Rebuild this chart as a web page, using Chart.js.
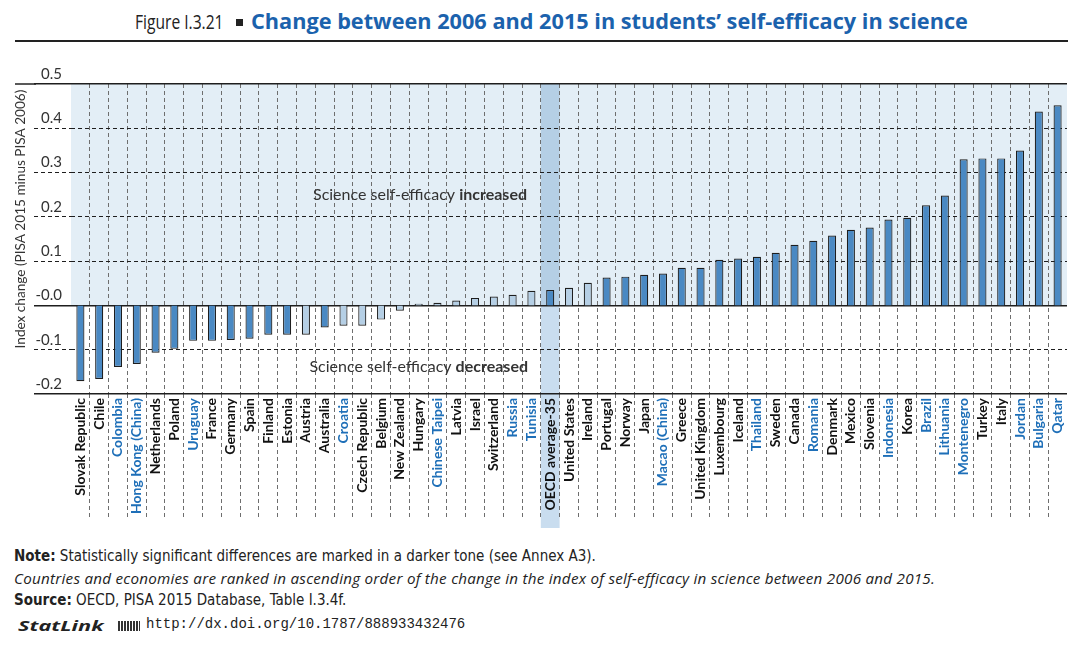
<!DOCTYPE html>
<html lang="en">
<head>
<meta charset="UTF-8">
<title>Figure I.3.21 - Change between 2006 and 2015 in students' self-efficacy in science</title>
<script src="https://cdn.jsdelivr.net/npm/chart.js"></script>
<style>
    body {
        margin: 0;
        padding: 0;
        background: #ffffff;
        width: 1089px;
        height: 658px;
        position: relative;
        overflow: hidden;
        font-family: Lato, sans-serif;
        color: #222;
    }

    /* titre */
    .fig-num {
        position: absolute;
        left: 135px;
        top: 8px;
        font-family: "Open Sans", sans-serif;
        font-size: 20px;
        line-height: 28px;
        color: #222;
        white-space: nowrap;
        transform: scaleX(0.78);
        transform-origin: left center;
    }
    .fig-sq {
        position: absolute;
        left: 236px;
        top: 19px;
        width: 7px;
        height: 7px;
        background: #222;
    }
    .fig-main {
        position: absolute;
        left: 251px;
        top: 7px;
        line-height: 28px;
        white-space: nowrap;
        font-family: "Open Sans", sans-serif;
        font-weight: 700;
        color: #1b62ad;
        font-size: 21.7px;
    }
    .title-rule {
        position: absolute;
        left: 15px;
        top: 40px;
        width: 1053px;
        height: 2px;
        background: #222;
    }

    #chartBox {
        position: absolute;
        left: 0;
        top: 60px;
        width: 1089px;
        height: 470px;
    }

    .note {
        position: absolute;
        left: 14px;
        white-space: nowrap;
        font-size: 15px;
        color: #222;
    }
    .narrow { font-family: "DejaVu Sans Condensed", "Liberation Sans Narrow", sans-serif; }
    .ital { font-family: "Open Sans", sans-serif; font-style: italic; font-size: 15.2px; letter-spacing: 0.25px; }
    .statlink {
        position: absolute;
        left: 18px;
        top: 616px;
        font-family: "Open Sans", sans-serif;
        font-weight: 700;
        font-style: italic;
        font-size: 14.5px;
        color: #222;
        transform: scaleX(1.5);
        transform-origin: left center;
    }
    .sl-icon {
        position: absolute;
        left: 118px;
        top: 621px;
        width: 22px;
        height: 10px;
        background: repeating-linear-gradient(90deg, #333 0 2px, #fff 2px 3px);
    }
    .url {
        position: absolute;
        left: 146px;
        top: 616px;
        font-family: "Liberation Mono", "DejaVu Sans Mono", monospace;
        font-size: 14px;
        color: #222;
    }
</style>
</head>
<body>

<div class="fig-num">Figure I.3.21</div>
<div class="fig-sq"></div>
<div class="fig-main">Change between 2006 and 2015 in students’ self-efficacy in science</div>
<div class="title-rule"></div>

<div id="chartBox">
    <canvas id="effChart" width="1089" height="470"></canvas>
</div>

<div class="note narrow" style="top:547px"><b>Note:</b> Statistically significant differences are marked in a darker tone (see Annex A3).</div>
<div class="note ital" style="top:568px">Countries and economies are ranked in ascending order of the change in the index of self-efficacy in science between 2006 and 2015.</div>
<div class="note narrow" style="top:591px"><b>Source:</b> OECD, PISA 2015 Database, Table I.3.4f.</div>
<div class="statlink">StatLink</div>
<div class="sl-icon"></div>
<div class="url">http://dx.doi.org/10.1787/888933432476</div>

<script>
    // Pays / économies, dans l'ordre du graphique
    const countries = [
        'Slovak Republic', 'Chile', 'Colombia', 'Hong Kong (China)', 'Netherlands', 'Poland',
        'Uruguay', 'France', 'Germany', 'Spain', 'Finland', 'Estonia', 'Austria', 'Australia',
        'Croatia', 'Czech Republic', 'Belgium', 'New Zealand', 'Hungary', 'Chinese Taipei',
        'Latvia', 'Israel', 'Switzerland', 'Russia', 'Tunisia', 'OECD average-35',
        'United States', 'Ireland', 'Portugal', 'Norway', 'Japan', 'Macao (China)', 'Greece',
        'United Kingdom', 'Luxembourg', 'Iceland', 'Thailand', 'Sweden', 'Canada', 'Romania',
        'Denmark', 'Mexico', 'Slovenia', 'Indonesia', 'Korea', 'Brazil', 'Lithuania',
        'Montenegro', 'Turkey', 'Italy', 'Jordan', 'Bulgaria', 'Qatar'
    ];

    // Changement de l'indice (PISA 2015 - PISA 2006)
    const changes = [
        -0.171, -0.166, -0.139, -0.132, -0.107, -0.098,
        -0.080, -0.080, -0.078, -0.075, -0.066, -0.066, -0.066, -0.050,
        -0.046, -0.046, -0.032, -0.012, 0.004, 0.006,
        0.011, 0.017, 0.020, 0.024, 0.033, 0.035,
        0.040, 0.051, 0.063, 0.065, 0.069, 0.072, 0.085,
        0.085, 0.103, 0.106, 0.110, 0.119, 0.137, 0.146,
        0.158, 0.171, 0.176, 0.194, 0.198, 0.226, 0.248,
        0.330, 0.332, 0.332, 0.350, 0.438, 0.452
    ];

    // 1 = différence significative (ton foncé)
    const significant = [
        1, 1, 1, 1, 1, 1,
        1, 1, 1, 1, 1, 1, 0, 1,
        0, 0, 0, 0, 0, 0,
        0, 0, 0, 0, 0, 1,
        0, 0, 1, 1, 1, 1, 1,
        1, 1, 1, 1, 1, 1, 1,
        1, 1, 1, 1, 1, 1, 1,
        1, 1, 1, 1, 1, 1
    ];

    // Partenaires (libellés en bleu)
    const partners = [
        'Colombia', 'Hong Kong (China)', 'Uruguay', 'Croatia', 'Chinese Taipei', 'Russia',
        'Tunisia', 'Macao (China)', 'Thailand', 'Romania', 'Indonesia', 'Brazil',
        'Lithuania', 'Montenegro', 'Jordan', 'Bulgaria', 'Qatar'
    ];

    const yMin = -0.2;
    const yMax = 0.5;
    const yStep = 0.1;
    const solidLines = [0.5, 0.0, -0.2];

    const oecdIndex = countries.indexOf('OECD average-35');

    const DARK = '#4a89c3';
    const LIGHT = '#b5cfe5';
    const DASH = [4, 3];

    function isSolid(v) {
        return solidLines.some(s => Math.abs(s - v) < 1e-6);
    }

    // fonds, bande OCDE et textes libres
    const decorPlugin = {
        id: 'decor',
        beforeDraw(chart) {
            const { ctx, chartArea } = chart;
            const x = chart.scales.x, y = chart.scales.y;
            const y0 = y.getPixelForValue(0);
            const yTop = y.getPixelForValue(yMax);
            ctx.save();
            ctx.fillStyle = '#e3eef6';
            ctx.fillRect(chartArea.left, yTop, chartArea.right - chartArea.left, y0 - yTop);

            const half = (x.getPixelForValue(1) - x.getPixelForValue(0)) / 2;
            const cx = x.getPixelForValue(oecdIndex);
            ctx.fillStyle = '#b5cfe5';
            ctx.fillRect(cx - half, yTop, half * 2, y0 - yTop);
            ctx.fillStyle = '#c9ddef';
            ctx.fillRect(cx - half, y0, half * 2, 468 - y0);
            ctx.restore();
        },
        afterDraw(chart) {
            const { ctx } = chart;
            const y = chart.scales.y;
            ctx.save();
            // prolongement de la ligne du haut
            ctx.strokeStyle = '#222';
            ctx.lineWidth = 1.5;
            ctx.beginPath();
            ctx.moveTo(15, y.getPixelForValue(yMax));
            ctx.lineTo(36, y.getPixelForValue(yMax));
            ctx.stroke();

            // titre de l'axe
            ctx.fillStyle = '#333';
            ctx.font = '13.6px Lato, sans-serif';
            ctx.textAlign = 'center';
            ctx.textBaseline = 'middle';
            ctx.translate(21, 159);
            ctx.rotate(-Math.PI / 2);
            ctx.fillText('Index change (PISA 2015 minus PISA 2006)', 0, 0);
            ctx.restore();

            drawMixed(ctx, 'Science self-efficacy ', 'increased', 527, 135);
            drawMixed(ctx, 'Science self-efficacy ', 'decreased', 528, 307);
        }
    };

    function drawMixed(ctx, plain, bold, right, cy) {
        ctx.save();
        ctx.fillStyle = '#333';
        ctx.textBaseline = 'middle';
        ctx.font = 'bold 16px Lato, sans-serif';
        const wb = ctx.measureText(bold).width;
        ctx.textAlign = 'right';
        ctx.fillText(bold, right, cy);
        ctx.font = '16px Lato, sans-serif';
        ctx.fillText(plain, right - wb, cy);
        ctx.restore();
    }

    const ctx = document.getElementById('effChart').getContext('2d');
    const effChart = new Chart(ctx, {
        type: 'bar',
        data: {
            labels: countries,
            datasets: [{
                data: changes,
                backgroundColor: changes.map((v, i) => significant[i] ? DARK : LIGHT),
                borderColor: '#1e1e1e',
                borderWidth: 1.2,
                categoryPercentage: 1,
                barPercentage: 0.43
            }]
        },
        options: {
            responsive: false,
            animation: false,
            layout: { padding: { left: 34, right: 22, top: 24, bottom: 0 } },
            plugins: {
                legend: { display: false },
                tooltip: { enabled: false }
            },
            scales: {
                x: {
                    afterFit(scale) { scale.height = 136; },
                    grid: {
                        offset: true,
                        color: c => (c.type === 'tick' && c.index > 0) ? '#6e6e6e' : 'rgba(0,0,0,0)',
                        tickColor: c => (c.type === 'tick' && c.index > 0) ? '#6e6e6e' : 'rgba(0,0,0,0)',
                        lineWidth: 1,
                        tickLength: 126,
                        tickBorderDash: DASH
                    },
                    border: { display: false, dash: DASH },
                    ticks: {
                        autoSkip: false,
                        minRotation: 90,
                        maxRotation: 90,
                        padding: -122,
                        font: { family: 'Lato', size: 14, weight: 'bold' },
                        color: c => partners.includes(countries[c.index]) ? '#1e6fb8' : '#111'
                    }
                },
                y: {
                    min: yMin,
                    max: yMax,
                    afterFit(scale) { scale.width = 37; },
                    grid: {
                        color: '#1e1e1e',
                        tickColor: '#1e1e1e',
                        lineWidth: c => isSolid(c.tick.value) ? 1.6 : 1,
                        tickWidth: c => isSolid(c.tick.value) ? 1.6 : 1,
                        tickLength: 37,
                        tickBorderDash: c => isSolid(c.tick.value) ? [] : DASH
                    },
                    border: { display: false, dash: c => isSolid(c.tick.value) ? [] : DASH },
                    ticks: {
                        stepSize: yStep,
                        padding: -28,
                        labelOffset: -10,
                        color: '#333',
                        font: { family: 'Lato', size: 15 },
                        callback: v => v.toFixed(1)
                    }
                }
            }
        },
        plugins: [decorPlugin]
    });
</script>

</body>
</html>
